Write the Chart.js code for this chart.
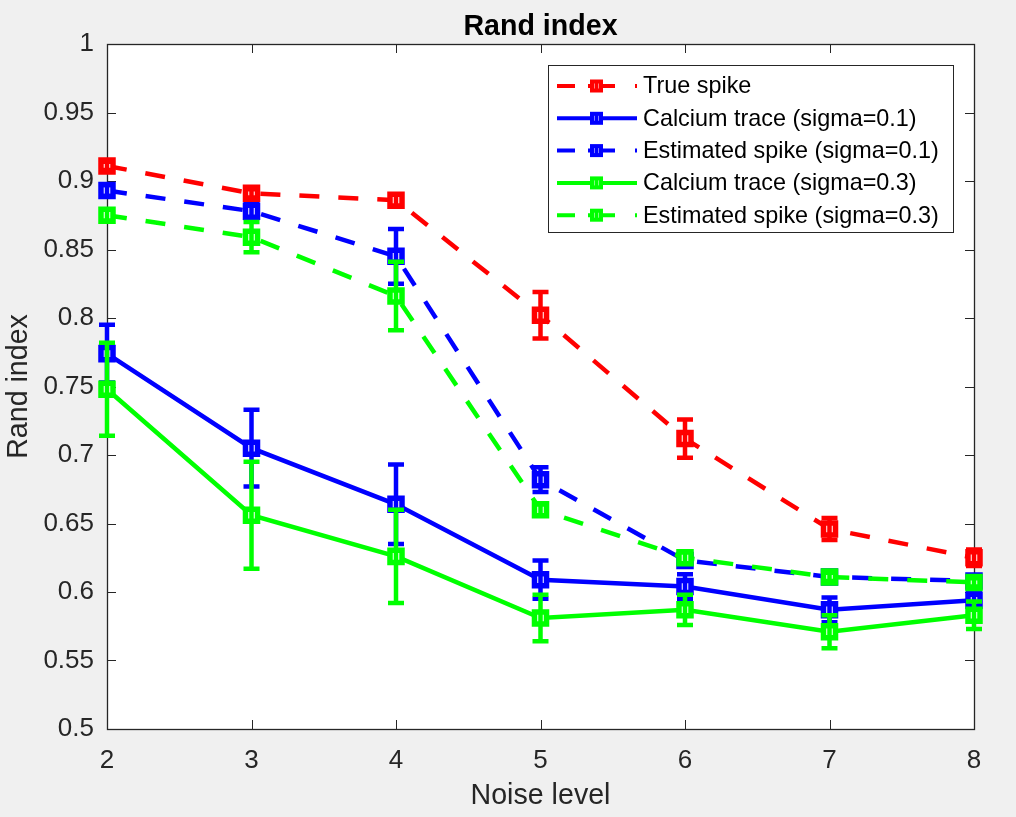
<!DOCTYPE html>
<html>
<head>
<meta charset="utf-8">
<script src="https://cdn.jsdelivr.net/npm/chart.js@4/dist/chart.umd.min.js"></script>
<style>
  html, body { margin: 0; padding: 0; background: #f0f0f0; }
  #wrap { width: 1016px; height: 817px; }
</style>
</head>
<body>
<div id="wrap"><canvas id="chart"></canvas></div>
<script>
const noiseLevels = [2, 3, 4, 5, 6, 7, 8];
const yTicks = [0.5, 0.55, 0.6, 0.65, 0.7, 0.75, 0.8, 0.85, 0.9, 0.95, 1];

const trueSpike = [0.911, 0.891, 0.886, 0.802, 0.712, 0.646, 0.625];
const trueSpikeErr = [0.003, 0.003, 0.004, 0.017, 0.014, 0.008, 0.006];

const calcium01 = [0.774, 0.705, 0.664, 0.609, 0.604, 0.587, 0.594];
const calcium01Err = [0.021, 0.028, 0.029, 0.014, 0.009, 0.009, 0.005];

const estimated01 = [0.893, 0.878, 0.845, 0.682, 0.623, 0.611, 0.608];
const estimated01Err = [0.004, 0.005, 0.020, 0.009, 0.004, 0.003, 0.003];

const calcium03 = [0.748, 0.656, 0.626, 0.581, 0.587, 0.571, 0.583];
const calcium03Err = [0.034, 0.039, 0.034, 0.017, 0.011, 0.012, 0.010];

const estimated03 = [0.875, 0.859, 0.816, 0.660, 0.625, 0.611, 0.607];
const estimated03Err = [0.004, 0.011, 0.025, 0.004, 0.004, 0.003, 0.003];

const chartTitle = "Rand index";

const AXIS = "#262626";
const FONT = "'Liberation Sans', Arial, sans-serif";
const DASH = [20, 19];

function series(label, values, errs, color, dashed, order) {
  return {
    label: label,
    data: noiseLevels.map((x, i) => ({ x: x, y: values[i] })),
    errors: errs,
    dashed: dashed,
    order: order,
    borderColor: color,
    backgroundColor: color,
    borderWidth: 4.5,
    borderDash: dashed ? DASH : [],
    borderCapStyle: "butt",
    tension: 0,
    fill: false,
    clip: false,
    pointStyle: "rect",
    pointRadius: 8.5,
    pointHoverRadius: 8.5,
    pointBorderWidth: 5.5,
    pointBorderColor: color,
    pointBackgroundColor: "#ffffff"
  };
}

// error bars drawn right after each line, on top of its markers
const errorBars = {
  id: "errorBars",
  afterDatasetDraw(chart, args) {
    const ds = chart.data.datasets[args.index];
    const y = chart.scales.y;
    const ctx = chart.ctx;
    ctx.save();
    ctx.strokeStyle = ds.borderColor;
    ctx.lineWidth = 4.5;
    ctx.setLineDash([]);
    args.meta.data.forEach((pt, i) => {
      const v = ds.data[i].y, e = ds.errors[i];
      const top = y.getPixelForValue(v + e);
      const bot = y.getPixelForValue(v - e);
      ctx.beginPath();
      ctx.moveTo(pt.x, top); ctx.lineTo(pt.x, bot);
      ctx.moveTo(pt.x - 8, top); ctx.lineTo(pt.x + 8, top);
      ctx.moveTo(pt.x - 8, bot); ctx.lineTo(pt.x + 8, bot);
      ctx.stroke();
    });
    ctx.restore();
  }
};

// MATLAB-like box with inward ticks on all sides, title centred on the axes
const axesBox = {
  id: "axesBox",
  beforeDatasetsDraw(chart) {
    const { ctx, chartArea: a, scales } = chart;
    ctx.save();
    ctx.fillStyle = "#ffffff";
    ctx.fillRect(a.left, a.top, a.right - a.left, a.bottom - a.top);
    ctx.strokeStyle = AXIS;
    ctx.lineWidth = 1;
    ctx.beginPath();
    scales.x.ticks.forEach(t => {
      const px = Math.round(scales.x.getPixelForValue(t.value)) + 0.5;
      ctx.moveTo(px, a.bottom); ctx.lineTo(px, a.bottom - 9);
      ctx.moveTo(px, a.top); ctx.lineTo(px, a.top + 9);
    });
    scales.y.ticks.forEach(t => {
      const py = Math.round(scales.y.getPixelForValue(t.value)) + 0.5;
      ctx.moveTo(a.left, py); ctx.lineTo(a.left + 9, py);
      ctx.moveTo(a.right, py); ctx.lineTo(a.right - 9, py);
    });
    ctx.stroke();
    ctx.lineWidth = 1.3;
    ctx.strokeRect(Math.round(a.left) + 0.5, Math.round(a.top) + 0.5,
      Math.round(a.right - a.left), Math.round(a.bottom - a.top));

    ctx.fillStyle = "#000000";
    ctx.font = "bold 28.6px " + FONT;
    ctx.textAlign = "center";
    ctx.textBaseline = "alphabetic";
    ctx.fillText(chartTitle, (a.left + a.right) / 2, 35);
    ctx.restore();
  }
};

// legend box in the upper right, line + marker samples
const boxLegend = {
  id: "boxLegend",
  afterDraw(chart) {
    const ctx = chart.ctx;
    const x0 = 548.5, y0 = 65.5, w = 405, h = 167;
    ctx.save();
    ctx.fillStyle = "#ffffff";
    ctx.fillRect(x0, y0, w, h);
    ctx.strokeStyle = AXIS;
    ctx.lineWidth = 1;
    ctx.strokeRect(x0, y0, w, h);
    ctx.font = "23.4px " + FONT;
    ctx.textBaseline = "middle";
    chart.data.datasets.forEach((ds, i) => {
      const cy = 86 + i * 32.3;
      ctx.strokeStyle = ds.borderColor;
      ctx.lineWidth = 4;
      ctx.setLineDash(ds.dashed ? [18, 13, 27, 20] : []);
      ctx.beginPath();
      ctx.moveTo(557, cy); ctx.lineTo(637, cy);
      ctx.stroke();
      ctx.setLineDash([]);
      ctx.lineWidth = 4;
      ctx.fillStyle = "#ffffff";
      ctx.fillRect(592, cy - 4.5, 9, 9);
      ctx.strokeRect(592, cy - 4.5, 9, 9);
      ctx.beginPath();
      ctx.moveTo(596.5, cy - 4); ctx.lineTo(596.5, cy + 4);
      ctx.stroke();
      ctx.fillStyle = "#000000";
      ctx.fillText(ds.label, 643, cy + 1);
    });
    ctx.restore();
  }
};

const datasets = [
  series("True spike", trueSpike, trueSpikeErr, "#ff0000", true, 5),
  series("Calcium trace (sigma=0.1)", calcium01, calcium01Err, "#0000ff", false, 4),
  series("Estimated spike (sigma=0.1)", estimated01, estimated01Err, "#0000ff", true, 3),
  series("Calcium trace (sigma=0.3)", calcium03, calcium03Err, "#00ff00", false, 2),
  series("Estimated spike (sigma=0.3)", estimated03, estimated03Err, "#00ff00", true, 1)
];

new Chart(document.getElementById("chart"), {
  type: "line",
  data: { datasets: datasets },
  plugins: [axesBox, errorBars, boxLegend],
  options: {
    responsive: true,
    maintainAspectRatio: false,
    devicePixelRatio: 1,
    animation: false,
    layout: { padding: { left: 0, right: 42, top: 44, bottom: 0 } },
    plugins: {
      legend: { display: false },
      tooltip: { enabled: false },
      title: { display: false }
    },
    scales: {
      x: {
        type: "linear",
        min: 2,
        max: 8,
        afterBuildTicks: s => { s.ticks = noiseLevels.map(v => ({ value: v })); },
        afterFit: s => { s.height = 88; },
        grid: { display: false, drawTicks: false },
        border: { display: false },
        ticks: {
          color: AXIS,
          padding: 16,
          maxRotation: 0,
          font: { family: FONT, size: 26 },
          callback: v => String(v)
        },
        title: {
          display: true,
          text: "Noise level",
          color: AXIS,
          font: { family: FONT, size: 28.6, lineHeight: 1.2 },
          padding: { top: 0, bottom: 4 }
        }
      },
      y: {
        min: 0.5,
        max: 1,
        afterBuildTicks: s => { s.ticks = yTicks.map(v => ({ value: v })); },
        afterFit: s => { s.width = 107; },
        grid: { display: false, drawTicks: false },
        border: { display: false },
        ticks: {
          color: AXIS,
          padding: 13,
          font: { family: FONT, size: 26 },
          callback: v => String(+v.toFixed(2))
        },
        title: {
          display: true,
          text: "Rand index",
          color: AXIS,
          font: { family: FONT, size: 28.6, lineHeight: 1.2 },
          padding: { top: 2, bottom: 0 }
        }
      }
    }
  }
});
</script>
</body>
</html>
